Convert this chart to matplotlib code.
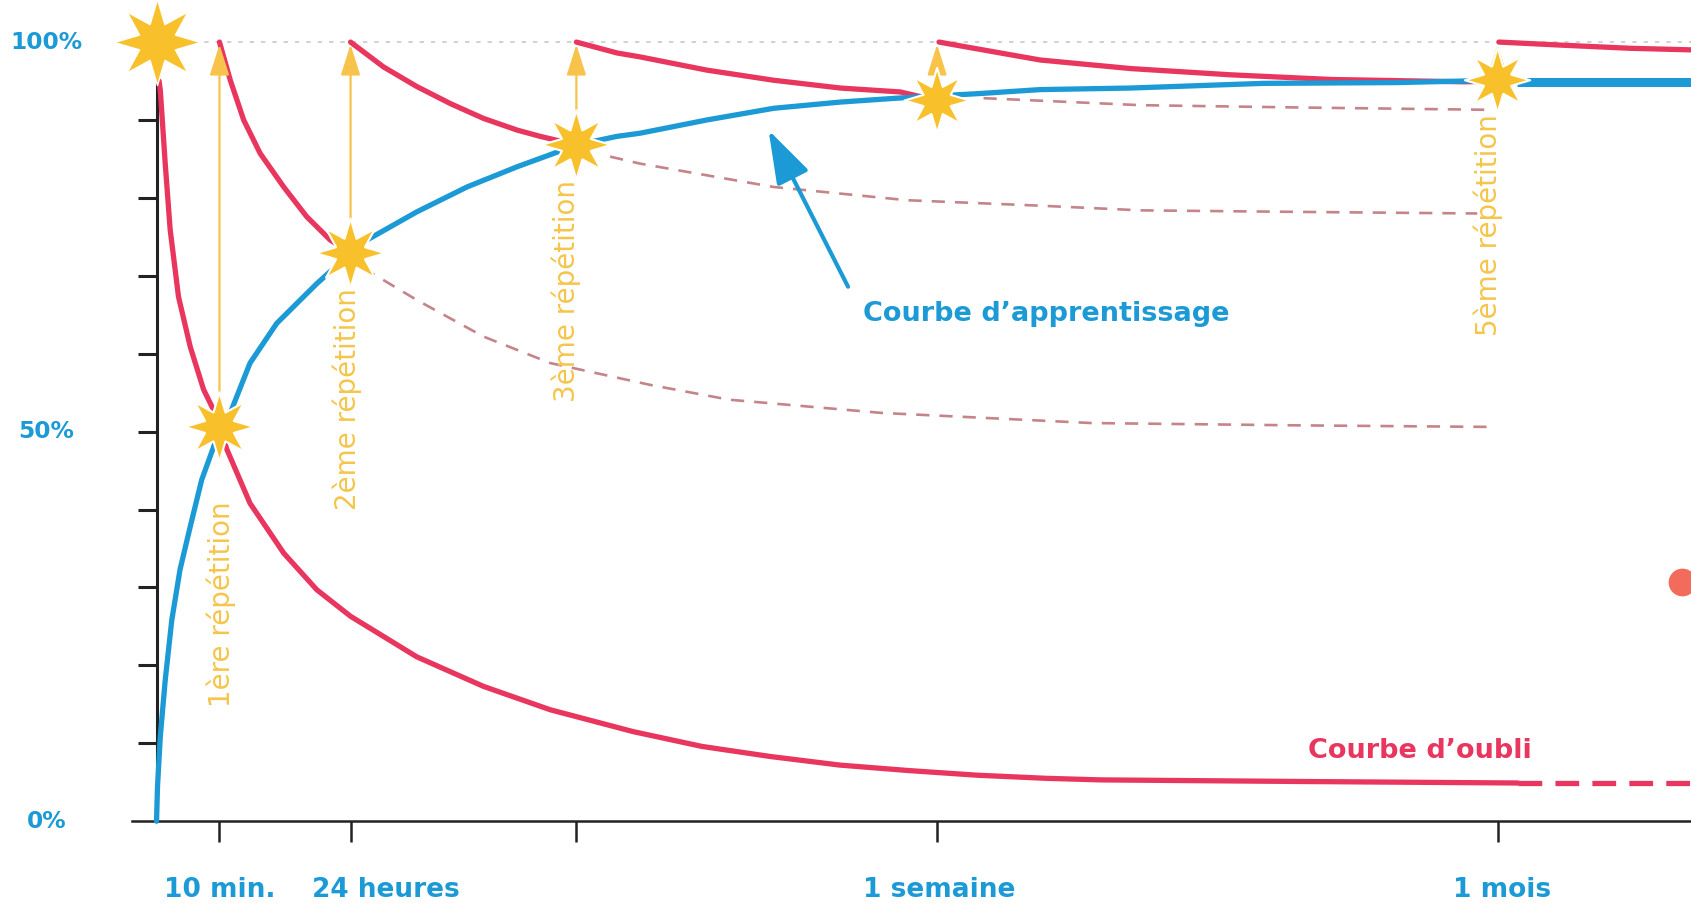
import numpy as np
import matplotlib
matplotlib.use("Agg")
import matplotlib.pyplot as plt
from matplotlib.path import Path

PINK = "#E8365F"
BLUE = "#1C9AD6"
GOLD = "#F8C12C"
GOLD_TEXT = "#F5C54A"
DASH = "#C4848A"
GREY = "#C9C9C9"
AXIS = "#222222"

# time axis is not to scale: arbitrary units, one unit ~ distance from 0 to "10 min."
rep_x = [0.99, 3.05, 6.6, 12.27, 21.08]
rep_y = [50.6, 72.9, 86.8, 92.5, 95.1]
rep_names = ["1ère répétition", "2ème répétition", "3ème répétition", "", "5ème répétition"]
time_x = [1.0, 3.6, 12.3, 21.15]
time_labels = ["10 min.", "24 heures", "1 semaine", "1 mois"]
pct_y = [100, 50, 0]
pct_labels = ["100%", "50%", "0%"]
start_x = [0.0]
start_y = [100.0]

# courbe d'oubli (no repetition)
forget0_t = [0.04, 0.06, 0.137, 0.215, 0.346, 0.53, 0.74, 0.92, 0.99, 1.107, 1.47, 2.0,
             2.52, 3.05, 4.09, 5.14, 6.19, 7.49, 8.57, 9.65, 10.74, 11.82, 12.9, 13.99,
             14.84, 17.9, 21.4]
forget0_y = [95.0, 93.8, 84.4, 75.9, 67.3, 60.9, 55.4, 52.4, 50.6, 47.7, 40.8, 34.4,
             29.7, 26.3, 21.1, 17.3, 14.3, 11.5, 9.6, 8.3, 7.2, 6.5, 5.9, 5.5,
             5.3, 5.1, 4.9]
forget0_tail_t = [21.4, 24.12]
forget0_tail_y = [4.9, 4.9]

# forgetting after each repetition
forget1_t = [0.99, 1.16, 1.37, 1.63, 2.0, 2.36, 2.73, 3.05]
forget1_y = [100, 95.1, 90.0, 85.7, 81.4, 77.6, 74.6, 72.9]
forget2_t = [3.05, 3.57, 4.09, 4.62, 5.14, 5.67, 6.03, 6.6]
forget2_y = [100, 96.8, 94.3, 92.1, 90.2, 88.7, 87.9, 86.8]
forget3_t = [6.6, 7.24, 7.6, 8.65, 9.7, 10.75, 11.69, 12.27]
forget3_y = [100, 98.6, 98.1, 96.4, 95.1, 94.1, 93.6, 92.5]
forget4_t = [12.3, 12.85, 13.89, 15.31, 16.88, 18.46, 20.55, 21.07]
forget4_y = [100, 99.2, 97.7, 96.6, 95.8, 95.2, 94.9, 95.0]
forget5_t = [21.1, 22.1, 23.17, 24.12]
forget5_y = [100, 99.6, 99.2, 99.0]

# what would remain without the next repetition (dashed)
keep2_t = [3.25, 4.09, 5.14, 6.19, 7.76, 9.0, 11.4, 14.7, 18.0, 21.05]
keep2_y = [71.0, 66.9, 62.2, 58.8, 56.0, 54.1, 52.4, 51.1, 50.8, 50.6]
keep3_t = [7.13, 7.6, 9.7, 11.8, 13.89, 15.47, 18.0, 20.76]
keep3_y = [85.3, 84.4, 81.4, 79.7, 79.0, 78.4, 78.2, 78.0]
keep4_t = [13.0, 15.47, 18.0, 21.0]
keep4_y = [92.8, 91.9, 91.6, 91.3]

# courbe d'apprentissage
learn_t = [0, 0.016, 0.06, 0.137, 0.24, 0.37, 0.53, 0.71, 0.9, 0.99, 1.16, 1.47, 1.89,
           2.52, 3.05, 3.31, 4.09, 4.88, 5.67, 6.24, 6.6, 7.24, 7.6, 8.65, 9.7, 10.75,
           11.64, 12.95, 13.89, 15.31, 17.4, 19.5, 21.07]
learn_y = [0, 4.5, 10.9, 18.1, 25.8, 32.3, 37.8, 43.8, 48.1, 50.6, 52.4, 58.8, 63.9,
           69.0, 72.9, 74.6, 78.2, 81.4, 84.0, 85.7, 86.8, 87.9, 88.3, 90.0, 91.5, 92.3,
           92.8, 93.4, 93.9, 94.1, 94.7, 94.8, 95.1]
learn_tail_t = [21.39, 24.12]
learn_tail_y = [94.9, 94.9]

dot_x = [23.98]
dot_y = [30.7]

fig = plt.figure(figsize=(16.91, 9.16), dpi=100)
ax = fig.add_axes([0, 0, 1, 1])
ax.set_xlim(-2.46, 24.12)
ax.set_ylim(-12.17, 105.4)

for side in ["top", "right"]:
    ax.spines[side].set_visible(False)
ax.spines["left"].set_position(("data", 0))
ax.spines["left"].set_bounds(0, 95.5)
ax.spines["left"].set_linewidth(2.2)
ax.spines["left"].set_color(AXIS)
ax.spines["bottom"].set_position(("data", 0))
ax.spines["bottom"].set_bounds(-0.39, 24.12)
ax.spines["bottom"].set_linewidth(1.8)
ax.spines["bottom"].set_color(AXIS)

ax.set_xticks(rep_x)
ax.set_xticklabels([])
ax.tick_params(axis="x", length=15, width=1.8, color=AXIS, direction="out")
ax.set_yticks([])
ax.set_yticks(np.arange(10, 100, 10), minor=True)
ax.tick_params(axis="y", which="minor", length=14, width=2.2, color=AXIS,
               direction="out", labelleft=False)

# 100% reference line
ax.plot([0.58, 24.12], [100, 100], color=GREY, lw=1.2, dashes=(2.6, 4.2), zorder=1)

for t, y in [(keep2_t, keep2_y), (keep3_t, keep3_y), (keep4_t, keep4_y)]:
    ax.plot(t, y, color=DASH, lw=1.9, dashes=(5.0, 3.8), zorder=2)

curve_kw = dict(color=PINK, lw=3.8, solid_capstyle="round", solid_joinstyle="round", zorder=3)
ax.plot(forget0_t, forget0_y, **curve_kw)
ax.plot(forget0_tail_t, forget0_tail_y, color=PINK, lw=3.8, dashes=(4.5, 2.5), zorder=3)
for t, y in [(forget1_t, forget1_y), (forget2_t, forget2_y), (forget3_t, forget3_y),
             (forget4_t, forget4_y), (forget5_t, forget5_y)]:
    ax.plot(t, y, **curve_kw)

ax.plot(learn_t, learn_y, color=BLUE, lw=3.8, solid_capstyle="round",
        solid_joinstyle="round", zorder=3)
ax.plot(learn_tail_t, learn_tail_y, color=BLUE, lw=6.5, solid_capstyle="butt", zorder=3)

# repetition arrows back up to 100%
for x, y in zip(rep_x, rep_y):
    ax.annotate("", xy=(x, 99.7), xytext=(x, y),
                arrowprops=dict(arrowstyle="-|>,head_length=0.95,head_width=0.3",
                                color="#F7C34A", lw=1.6, shrinkA=0, shrinkB=0,
                                mutation_scale=20),
                zorder=4)

star = Path.unit_regular_star(8, innerCircle=0.45)
star_sizes = [50, 50, 50, 47, 47]
ax.scatter(rep_x, rep_y, s=[m ** 2 for m in star_sizes], marker=star, color=GOLD,
           edgecolors="white", linewidths=1.5, zorder=5)
ax.scatter(start_x, start_y, s=62 ** 2, marker=star, color=GOLD, edgecolors="white",
           linewidths=1.0, zorder=5, clip_on=False)

ax.scatter(dot_x, dot_y, s=360, color="#F26B5B", zorder=5)

# labels
rep_label_dx = [0.03, -0.05, -0.16, 0.0, -0.15]
rep_label_y = [27.9, 54.2, 68.0, 0.0, 76.5]
for x, dx, ly, name in zip(rep_x, rep_label_dx, rep_label_y, rep_names):
    if name:
        ax.text(x + dx, ly, name, rotation=90, ha="center", va="center",
                color=GOLD_TEXT, fontsize=20)

for x, lab in zip(time_x, time_labels):
    ax.text(x, -8.85, lab, ha="center", va="center", color=BLUE,
            fontsize=19, fontweight="bold")

for y, lab in zip(pct_y, pct_labels):
    ax.text(0.0274, y, lab, transform=ax.get_yaxis_transform(), ha="center",
            va="center", color=BLUE, fontsize=16.8, fontweight="bold")

ax.text(11.1, 65.1, "Courbe d\u2019apprentissage", ha="left", va="center",
        color=BLUE, fontsize=19.5, fontweight="bold")
ax.text(19.86, 9.0, "Courbe d\u2019oubli", ha="center", va="center",
        color=PINK, fontsize=19.5, fontweight="bold")

ax.annotate("", xy=(9.62, 88.7), xytext=(10.87, 68.6),
            arrowprops=dict(arrowstyle="-|>,head_length=1.1,head_width=0.36",
                            color=BLUE, lw=3.0, shrinkA=0, shrinkB=0,
                            mutation_scale=30),
            zorder=4)

fig.savefig("out.png", dpi=100)
